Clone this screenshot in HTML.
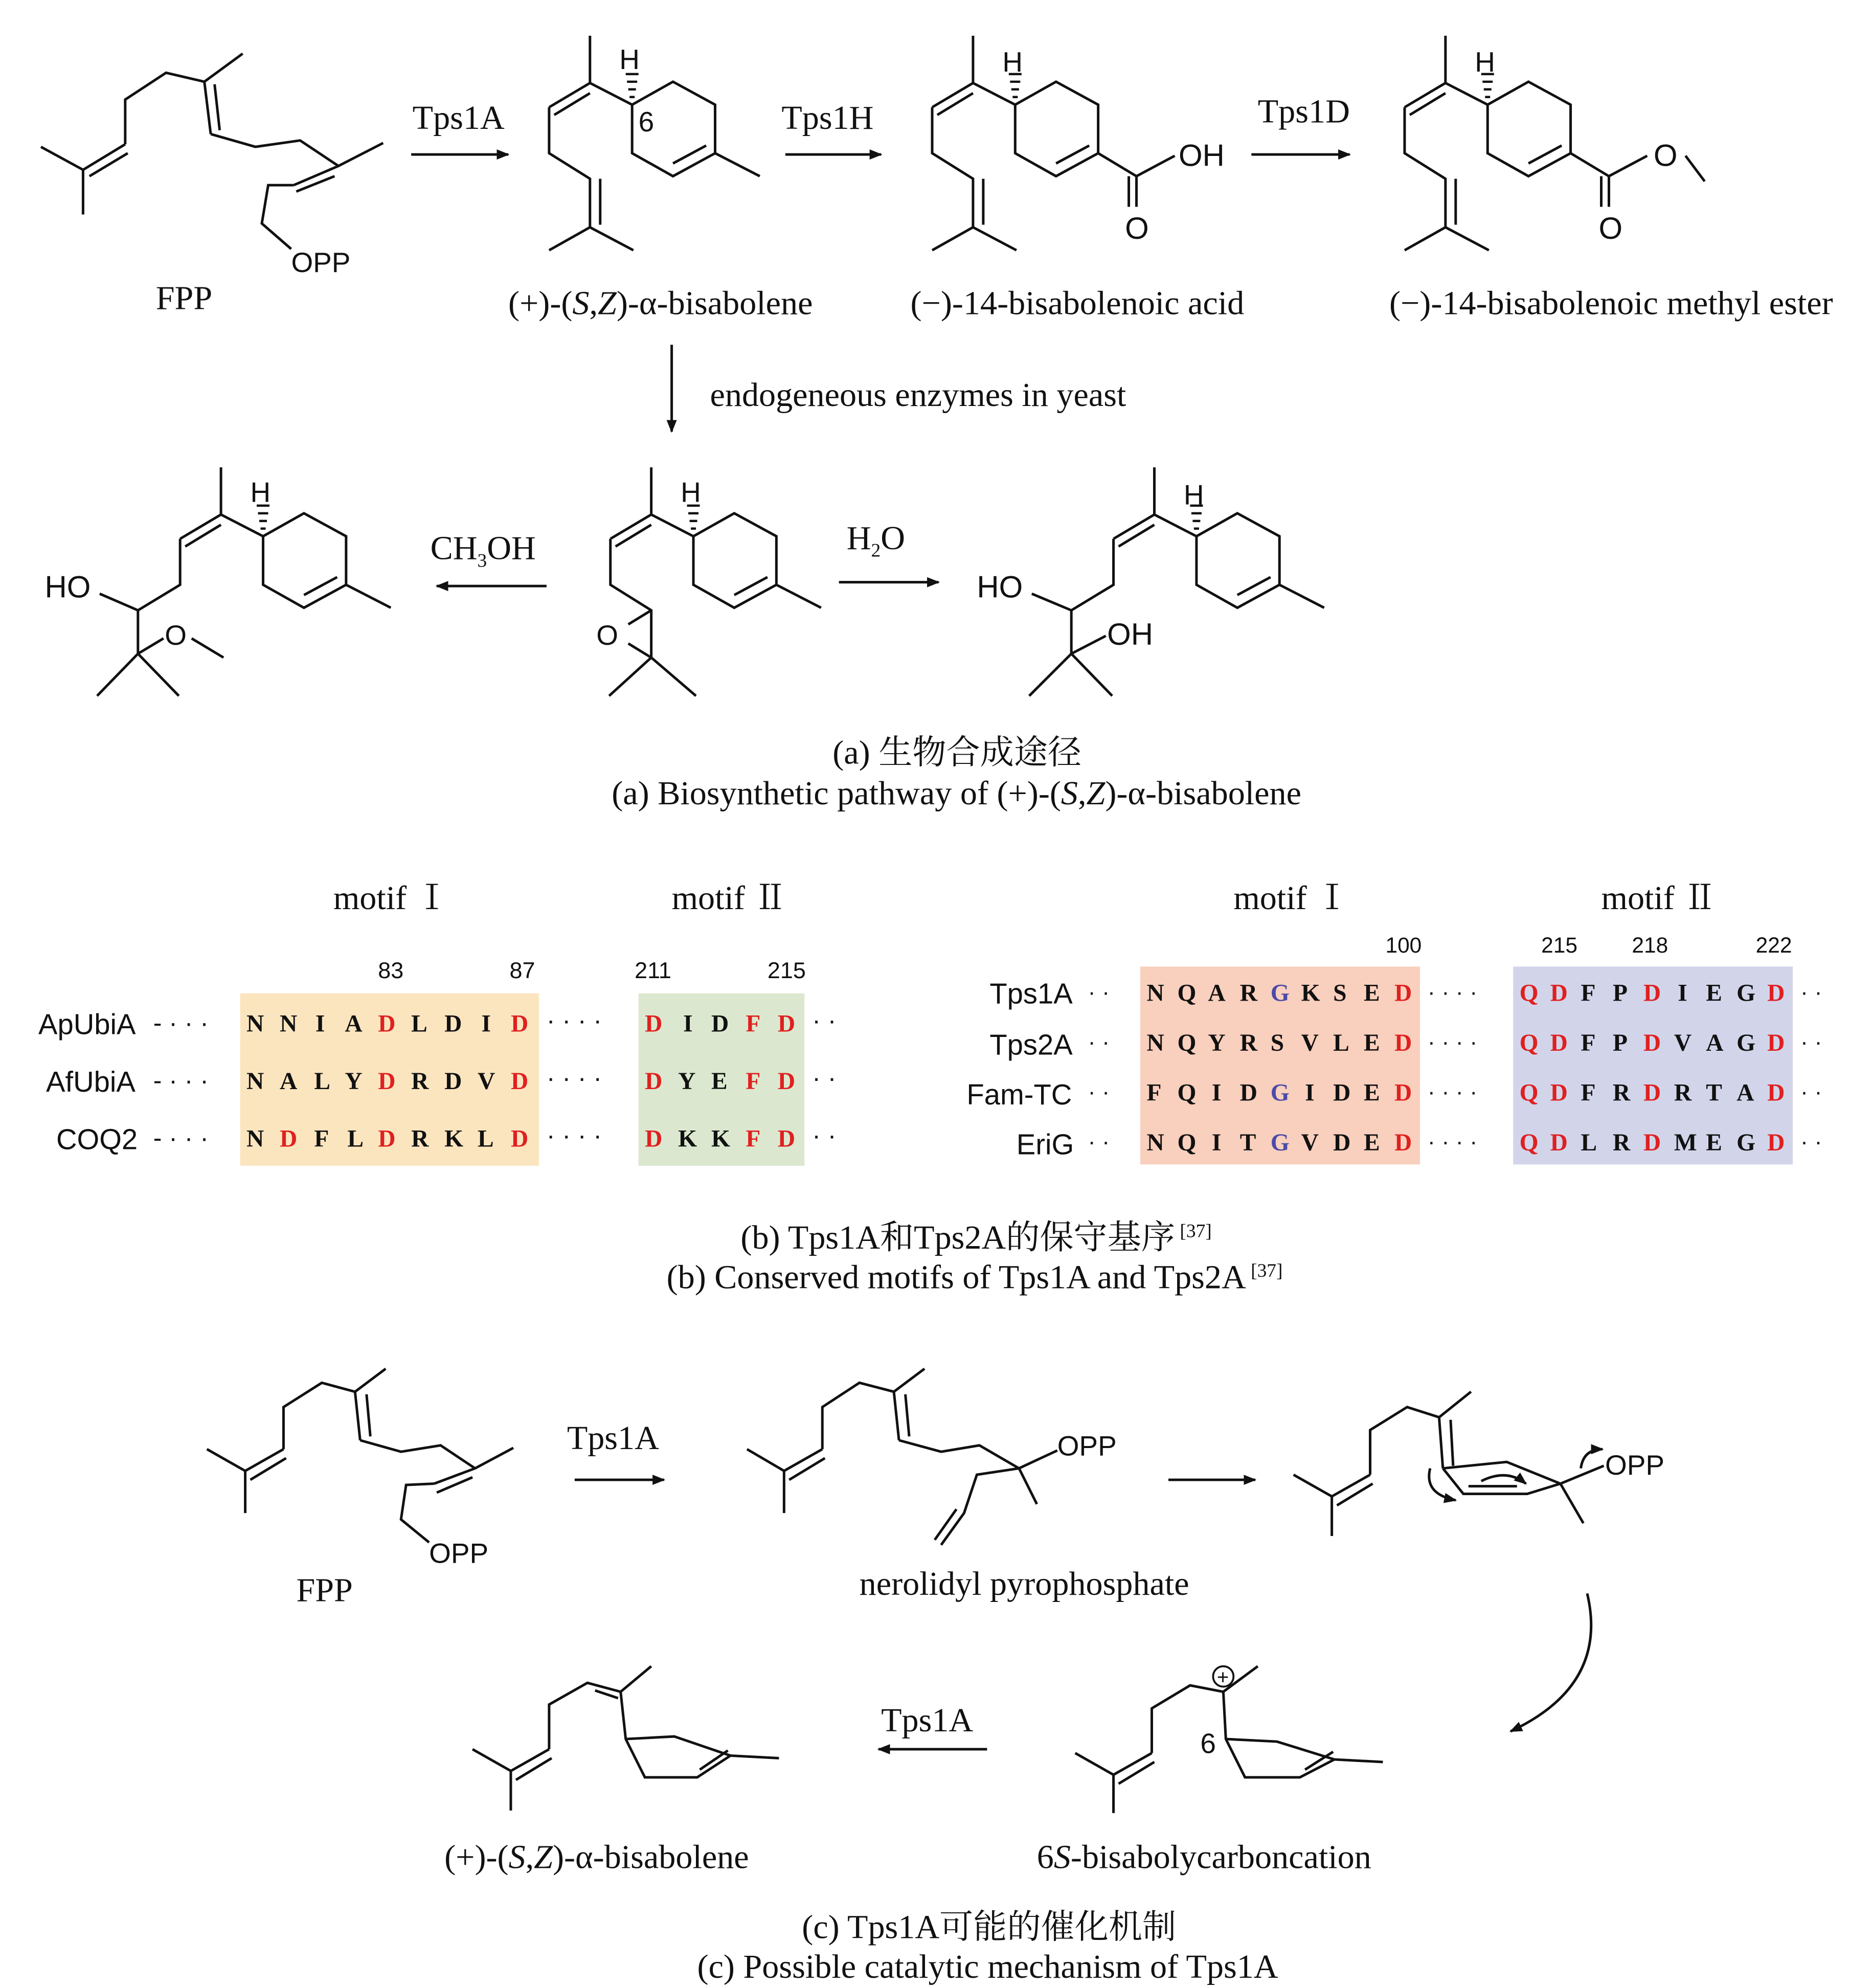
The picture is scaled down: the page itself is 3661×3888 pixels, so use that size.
<!DOCTYPE html>
<html><head><meta charset="utf-8"><style>
html,body{margin:0;padding:0;background:#fff}
svg{display:block}
.s{font-family:"Liberation Serif","Noto Serif CJK SC",serif;fill:#111}
.a{font-family:"Liberation Sans",sans-serif;fill:#111}
.b{font-family:"Liberation Serif",serif;font-weight:bold;fill:#111;font-size:19px}
.r{fill:#e02020}.u{fill:#4b4ba8}
path{fill:none;stroke:#111;stroke-width:2}
</style></head><body>
<svg width="3661" height="3888" viewBox="0 0 1466 1557" xmlns="http://www.w3.org/2000/svg">
<defs>
<marker id="ar" markerWidth="10" markerHeight="8" refX="9" refY="4" orient="auto" markerUnits="userSpaceOnUse"><path d="M0,0 L10,4 L0,8 z" style="fill:#111;stroke:none"/></marker>
<g id="ring">
<path d="M0,0 L32,-18 L65,0 L65,38 L32,56 L0,38 Z M32,46 L58,32 M65,38 L100,56"/>
</g>
<g id="hash">
<path d="M-2,-6 L2,-6 M-3,-12 L3,-12 M-4,-18 L4,-18 M-5,-24 L5,-24" style="stroke-width:1.8"/>
</g>
</defs>

<!-- FPP top -->
<path d="M32,115 L65,133 L65,168 M65,133 L98,113 M70,138 L100,120 M98,113 L98,78 L130,57 L160,64 L190,42 M160,64 L165,105 M168,66 L172,102 M165,105 L200,115 L235,110 L265,130 L300,112 M265,130 L230,145 M262,138 L232,150 M230,145 L210,145 L205,175 L228,195"/>
<text x="228" y="213" class="a" font-size="22">OPP</text>
<text x="122" y="242" class="s" font-size="26.5">FPP</text>

<!-- arrows top -->
<path d="M322,121 L398,121" marker-end="url(#ar)"/><text x="323" y="101" class="s" font-size="26.5">Tps1A</text>
<path d="M615,121 L690,121" marker-end="url(#ar)"/><text x="612" y="101" class="s" font-size="26.5">Tps1H</text>
<path d="M980,121 L1057,121" marker-end="url(#ar)"/><text x="985" y="96" class="s" font-size="26.5">Tps1D</text>

<!-- bisabolene -->
<g transform="translate(495,82)"><use href="#ring"/><use href="#hash"/></g>
<path d="M495,82 L462,65 L430,84 M462,73 L434,90 M462,65 L462,28 M430,84 L430,120 L462,140 L462,178 M470,140 L470,176 M462,178 L430,196 M462,178 L496,196"/>
<text x="485" y="54" class="a" font-size="22">H</text><text x="500" y="103" class="a" font-size="22">6</text>
<text x="398" y="246" class="s" font-size="26.5">(+)-(<tspan font-style="italic">S</tspan>,<tspan font-style="italic">Z</tspan>)-α-bisabolene</text>

<!-- acid -->
<g transform="translate(795,82)"><path d="M0,0 L32,-18 L65,0 L65,38 L32,56 L0,38 Z M32,46 L58,32 M65,38 L95,56 L125,40 M95,56 L95,80 M89,56 L89,80"/><use href="#hash"/></g>
<path d="M795,82 L762,65 L730,84 M762,73 L734,90 M762,65 L762,28 M730,84 L730,120 L762,140 L762,178 M770,140 L770,176 M762,178 L730,196 M762,178 L796,196"/>
<text x="785" y="56" class="a" font-size="22">H</text>
<text x="923" y="130" class="a" font-size="24">OH</text><text x="881" y="187" class="a" font-size="24">O</text>
<text x="713" y="246" class="s" font-size="26.5">(−)-14-bisabolenoic acid</text>

<!-- ester -->
<g transform="translate(1165,82)"><path d="M0,0 L32,-18 L65,0 L65,38 L32,56 L0,38 Z M32,46 L58,32 M65,38 L95,56 L125,40 M95,56 L95,80 M89,56 L89,80 M155,40 L170,60"/><use href="#hash"/></g>
<path d="M1165,82 L1132,65 L1100,84 M1132,73 L1104,90 M1132,65 L1132,28 M1100,84 L1100,120 L1132,140 L1132,178 M1140,140 L1140,176 M1132,178 L1100,196 M1132,178 L1166,196"/>
<text x="1155" y="56" class="a" font-size="22">H</text>
<text x="1295" y="130" class="a" font-size="24">O</text><text x="1252" y="187" class="a" font-size="24">O</text>
<text x="1088" y="246" class="s" font-size="26.5">(−)-14-bisabolenoic methyl ester</text>

<!-- down arrow -->
<path d="M526,270 L526,338" marker-end="url(#ar)"/>
<text x="556" y="318" class="s" font-size="26.5">endogeneous enzymes in yeast</text>

<!-- epoxide center -->
<g transform="translate(543,420)"><use href="#ring"/><use href="#hash"/></g>
<path d="M543,420 L510,403 L478,422 M510,411 L482,428 M510,403 L510,366 M478,422 L478,458 L510,478 L510,515 M510,515 L477,545 M510,515 L545,545 M510,478 L492,489 M510,515 L492,504"/>
<text x="533" y="393" class="a" font-size="22">H</text><text x="467" y="505" class="a" font-size="22">O</text>
<path d="M428,459 L342,459" marker-end="url(#ar)"/><text x="337" y="438" class="s" font-size="26.5">CH<tspan font-size="15" dy="6">3</tspan><tspan dy="-6">OH</tspan></text>
<path d="M657,456 L735,456" marker-end="url(#ar)"/><text x="663" y="430" class="s" font-size="26.5">H<tspan font-size="15" dy="6">2</tspan><tspan dy="-6">O</tspan></text>

<!-- left product -->
<g transform="translate(206,420)"><use href="#ring"/><use href="#hash"/></g>
<path d="M206,420 L173,403 L141,422 M173,411 L145,428 M173,403 L173,366 M141,422 L141,458 L108,478 L108,512 L76,545 M108,512 L140,545 M108,512 L128,500 M150,500 L175,515 M108,478 L78,465"/>
<text x="196" y="393" class="a" font-size="22">H</text><text x="35" y="468" class="a" font-size="24">HO</text><text x="129" y="505" class="a" font-size="22">O</text>

<!-- right product -->
<g transform="translate(937,420)"><use href="#ring"/><use href="#hash"/></g>
<path d="M937,420 L904,403 L872,422 M904,411 L876,428 M904,403 L904,366 M872,422 L872,458 L839,478 L839,512 L806,545 M839,512 L871,545 M839,512 L866,498 M839,478 L808,465"/>
<text x="927" y="395" class="a" font-size="22">H</text><text x="765" y="468" class="a" font-size="24">HO</text><text x="867" y="505" class="a" font-size="24">OH</text>

<text x="652" y="598" class="s" font-size="26.5">(a) 生物合成途径</text>
<text x="479" y="630" class="s" font-size="26.5">(a) Biosynthetic pathway of (+)-(<tspan font-style="italic">S</tspan>,<tspan font-style="italic">Z</tspan>)-α-bisabolene</text>

<!-- (b) left table -->
<rect x="188" y="778" width="234" height="135" fill="#fbe5bf"/>
<rect x="500" y="778" width="130" height="135" fill="#dbe8cf"/>
<text x="261" y="712" class="s" font-size="26.5">motif Ⅰ</text><text x="526" y="712" class="s" font-size="26.5">motif Ⅱ</text>
<g class="a" font-size="18"><text x="296" y="766">83</text><text x="399" y="766">87</text><text x="497" y="766">211</text><text x="601" y="766">215</text></g>
<g class="a" font-size="22.5"><text x="30" y="810">ApUbiA</text><text x="36" y="855">AfUbiA</text><text x="44" y="900">COQ2</text></g>
<g class="a" font-size="20"><text x="120" y="808">- · · ·</text><text x="120" y="853">- · · ·</text><text x="120" y="898">- · · ·</text>
<text x="428" y="806">· · · ·</text><text x="428" y="851">· · · ·</text><text x="428" y="896">· · · ·</text>
<text x="636" y="806">· ·</text><text x="636" y="851">· ·</text><text x="636" y="896">· ·</text></g>
<g class="b">
<text y="808"><tspan x="193">N</tspan><tspan x="219">N</tspan><tspan x="247">I</tspan><tspan x="270">A</tspan><tspan x="296" class="r">D</tspan><tspan x="322">L</tspan><tspan x="348">D</tspan><tspan x="377">I</tspan><tspan x="400" class="r">D</tspan></text>
<text y="853"><tspan x="193">N</tspan><tspan x="219">A</tspan><tspan x="246">L</tspan><tspan x="270">Y</tspan><tspan x="296" class="r">D</tspan><tspan x="322">R</tspan><tspan x="348">D</tspan><tspan x="374">V</tspan><tspan x="400" class="r">D</tspan></text>
<text y="898"><tspan x="193">N</tspan><tspan x="219" class="r">D</tspan><tspan x="246">F</tspan><tspan x="272">L</tspan><tspan x="296" class="r">D</tspan><tspan x="322">R</tspan><tspan x="348">K</tspan><tspan x="374">L</tspan><tspan x="400" class="r">D</tspan></text>
<text y="808"><tspan x="505" class="r">D</tspan><tspan x="535">I</tspan><tspan x="557">D</tspan><tspan x="584" class="r">F</tspan><tspan x="609" class="r">D</tspan></text>
<text y="853"><tspan x="505" class="r">D</tspan><tspan x="531">Y</tspan><tspan x="557">E</tspan><tspan x="584" class="r">F</tspan><tspan x="609" class="r">D</tspan></text>
<text y="898"><tspan x="505" class="r">D</tspan><tspan x="531">K</tspan><tspan x="557">K</tspan><tspan x="584" class="r">F</tspan><tspan x="609" class="r">D</tspan></text>
</g>

<!-- (b) right table -->
<rect x="893" y="757" width="219" height="155" fill="#f9cfbd"/>
<rect x="1185" y="757" width="219" height="155" fill="#d2d5ea"/>
<text x="966" y="712" class="s" font-size="26.5">motif Ⅰ</text><text x="1254" y="712" class="s" font-size="26.5">motif Ⅱ</text>
<g class="a" font-size="17"><text x="1085" y="746">100</text><text x="1207" y="746">215</text><text x="1278" y="746">218</text><text x="1375" y="746">222</text></g>
<g class="a" font-size="22.5"><text x="775" y="786">Tps1A</text><text x="775" y="826">Tps2A</text><text x="757" y="865">Fam-TC</text><text x="796" y="904">EriG</text></g>
<g class="a" font-size="18"><text x="852" y="783">· ·</text><text x="852" y="822">· ·</text><text x="852" y="861">· ·</text><text x="852" y="900">· ·</text>
<text x="1118" y="783">· · · ·</text><text x="1118" y="822">· · · ·</text><text x="1118" y="861">· · · ·</text><text x="1118" y="900">· · · ·</text>
<text x="1410" y="783">· ·</text><text x="1410" y="822">· ·</text><text x="1410" y="861">· ·</text><text x="1410" y="900">· ·</text></g>
<g class="b" font-size="17">
<text y="784"><tspan x="898">N</tspan><tspan x="922">Q</tspan><tspan x="946">A</tspan><tspan x="971">R</tspan><tspan x="995" class="u">G</tspan><tspan x="1019">K</tspan><tspan x="1044">S</tspan><tspan x="1068">E</tspan><tspan x="1092" class="r">D</tspan></text>
<text y="823"><tspan x="898">N</tspan><tspan x="922">Q</tspan><tspan x="946">Y</tspan><tspan x="971">R</tspan><tspan x="995">S</tspan><tspan x="1019">V</tspan><tspan x="1044">L</tspan><tspan x="1068">E</tspan><tspan x="1092" class="r">D</tspan></text>
<text y="862"><tspan x="898">F</tspan><tspan x="922">Q</tspan><tspan x="949">I</tspan><tspan x="971">D</tspan><tspan x="995" class="u">G</tspan><tspan x="1022">I</tspan><tspan x="1044">D</tspan><tspan x="1068">E</tspan><tspan x="1092" class="r">D</tspan></text>
<text y="901"><tspan x="898">N</tspan><tspan x="922">Q</tspan><tspan x="949">I</tspan><tspan x="971">T</tspan><tspan x="995" class="u">G</tspan><tspan x="1019">V</tspan><tspan x="1044">D</tspan><tspan x="1068">E</tspan><tspan x="1092" class="r">D</tspan></text>
<text y="784"><tspan x="1190" class="r">Q</tspan><tspan x="1214" class="r">D</tspan><tspan x="1238">F</tspan><tspan x="1263">P</tspan><tspan x="1287" class="r">D</tspan><tspan x="1314">I</tspan><tspan x="1336">E</tspan><tspan x="1360">G</tspan><tspan x="1384" class="r">D</tspan></text>
<text y="823"><tspan x="1190" class="r">Q</tspan><tspan x="1214" class="r">D</tspan><tspan x="1238">F</tspan><tspan x="1263">P</tspan><tspan x="1287" class="r">D</tspan><tspan x="1311">V</tspan><tspan x="1336">A</tspan><tspan x="1360">G</tspan><tspan x="1384" class="r">D</tspan></text>
<text y="862"><tspan x="1190" class="r">Q</tspan><tspan x="1214" class="r">D</tspan><tspan x="1238">F</tspan><tspan x="1263">R</tspan><tspan x="1287" class="r">D</tspan><tspan x="1311">R</tspan><tspan x="1336">T</tspan><tspan x="1360">A</tspan><tspan x="1384" class="r">D</tspan></text>
<text y="901"><tspan x="1190" class="r">Q</tspan><tspan x="1214" class="r">D</tspan><tspan x="1238">L</tspan><tspan x="1263">R</tspan><tspan x="1287" class="r">D</tspan><tspan x="1311">M</tspan><tspan x="1336">E</tspan><tspan x="1360">G</tspan><tspan x="1384" class="r">D</tspan></text>
</g>
<text x="580" y="978" class="s" font-size="26.5">(b) Tps1A和Tps2A的保守基序<tspan font-size="15" dy="-9"> [37]</tspan></text>
<text x="522" y="1009" class="s" font-size="26.5">(b) Conserved motifs of Tps1A and Tps2A<tspan font-size="15" dy="-9"> [37]</tspan></text>

<!-- (c) FPP -->
<path d="M162,1135 L192,1152 L192,1185 M192,1152 L222,1135 M196,1159 L224,1142 M222,1135 L222,1102 L252,1083 L278,1090 L302,1072 M278,1090 L282,1128 M287,1092 L290,1125 M282,1128 L314,1137 L345,1132 L372,1150 L402,1134 M372,1150 L340,1162 M370,1157 L342,1169 M340,1162 L318,1163 L314,1190 L336,1208"/>
<text x="336" y="1224" class="a" font-size="22">OPP</text><text x="232" y="1254" class="s" font-size="26.5">FPP</text>
<path d="M450,1159 L520,1159" marker-end="url(#ar)"/><text x="444" y="1135" class="s" font-size="26.5">Tps1A</text>

<!-- nerolidyl -->
<path d="M585,1135 L614,1152 L614,1185 M614,1152 L644,1135 M618,1159 L646,1142 M644,1135 L644,1102 L673,1083 L700,1090 L724,1072 M700,1090 L704,1128 M709,1092 L712,1125 M704,1128 L737,1137 L767,1132 L798,1150 L828,1136 M798,1150 L812,1178 M798,1150 L765,1155 L755,1185 L737,1210 M749,1182 L732,1206"/>
<text x="828" y="1140" class="a" font-size="22">OPP</text>
<text x="673" y="1249" class="s" font-size="26.5">nerolidyl pyrophosphate</text>
<path d="M915,1159 L983,1159" marker-end="url(#ar)"/>

<!-- third -->
<path d="M1013,1155 L1043,1172 L1043,1203 M1043,1172 L1073,1155 M1047,1179 L1075,1162 M1073,1155 L1073,1120 L1102,1102 L1127,1110 L1152,1090 M1127,1110 L1130,1150 M1136,1112 L1138,1148 M1130,1150 L1146,1170 L1196,1170 L1222,1162 L1240,1193 M1150,1164 L1188,1164 M1222,1162 L1256,1148 M1130,1150 L1180,1145 L1222,1162"/>
<path d="M1120,1150 Q1115,1170 1140,1175" marker-end="url(#ar)"/>
<path d="M1160,1160 Q1180,1150 1195,1162" marker-end="url(#ar)"/>
<path d="M1238,1150 Q1240,1135 1255,1135" marker-end="url(#ar)"/>
<text x="1257" y="1155" class="a" font-size="22">OPP</text>
<path d="M1243,1248 Q1260,1320 1183,1356" marker-end="url(#ar)"/>

<!-- cation -->
<path d="M842,1373 L872,1390 L872,1420 M872,1390 L902,1373 M876,1397 L904,1380 M902,1373 L902,1338 L932,1320 L958,1325 L985,1305 M958,1325 L960,1362 L975,1392 L1018,1392 L1045,1378 L1083,1380 M1022,1386 L1044,1372 M960,1362 L1000,1364 L1045,1378"/>
<circle cx="958" cy="1313" r="8" style="fill:none;stroke:#111;stroke-width:1.5"/><text x="953" y="1319" class="a" font-size="16">+</text>
<text x="940" y="1373" class="a" font-size="22">6</text>
<text x="812" y="1463" class="s" font-size="26.5">6<tspan font-style="italic">S</tspan>-bisabolycarboncation</text>
<path d="M773,1370 L688,1370" marker-end="url(#ar)"/><text x="690" y="1356" class="s" font-size="26.5">Tps1A</text>

<!-- product -->
<path d="M370,1370 L400,1387 L400,1418 M400,1387 L430,1370 M404,1394 L432,1377 M430,1370 L430,1335 L460,1318 L486,1325 L510,1305 M466,1324 L484,1330 M486,1325 L490,1362 L505,1392 L546,1392 L572,1375 L610,1377 M548,1386 L570,1371 M490,1362 L528,1360 L572,1375"/>
<text x="348" y="1463" class="s" font-size="26.5">(+)-(<tspan font-style="italic">S</tspan>,<tspan font-style="italic">Z</tspan>)-α-bisabolene</text>

<text x="628" y="1518" class="s" font-size="26.5">(c) Tps1A可能的催化机制</text>
<text x="546" y="1549" class="s" font-size="26.5">(c) Possible catalytic mechanism of Tps1A</text>
</svg>
</body></html>
